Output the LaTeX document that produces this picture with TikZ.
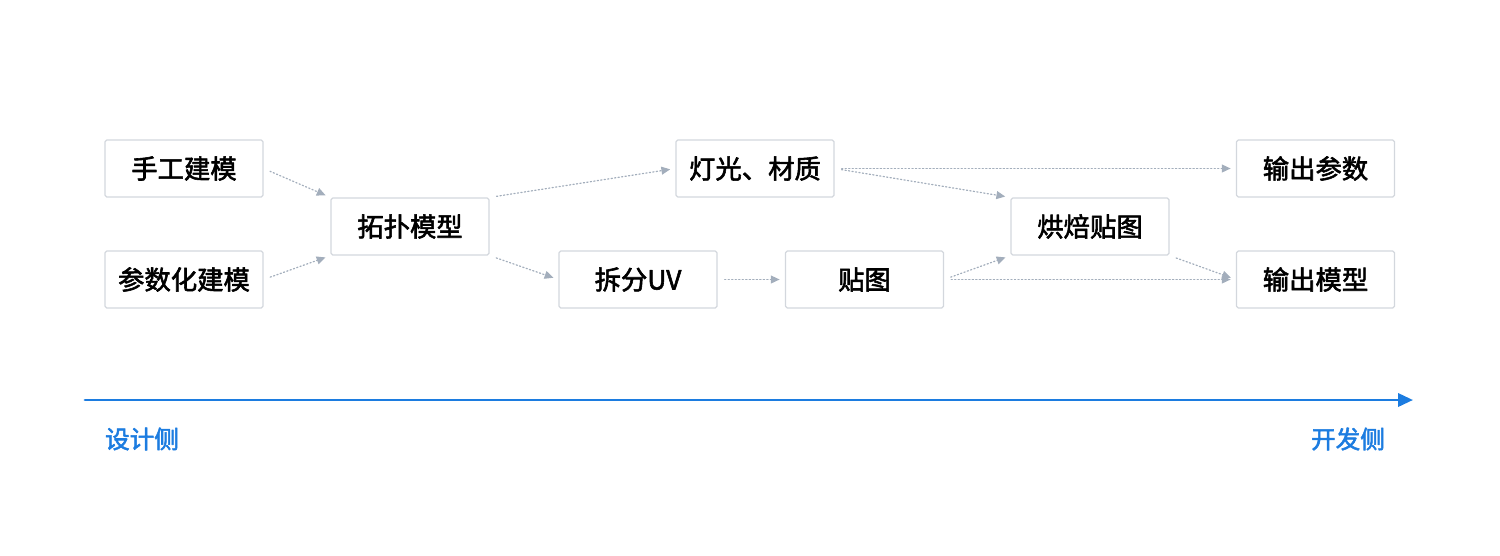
\documentclass[tikz,border=0pt]{standalone}
\usepackage{fontspec}
\setmainfont{Noto Sans CJK SC}[AutoFakeBold=2.2]
\usetikzlibrary{arrows.meta}
\definecolor{reuna}{HTML}{D3D7DD}
\definecolor{harmaa}{HTML}{A3AEBC}
\definecolor{sininen}{HTML}{1C7CE0}

\begin{document}
\begin{tikzpicture}[line cap=round,line join=round,x=0.02cm,y=-0.02cm,
laatikko/.style={draw=reuna,line width=0.7pt,rounded corners=1pt,minimum width=3.16cm,minimum height=1.14cm,inner sep=0pt,font=\bfseries\fontsize{15}{17}\selectfont},
nuoli/.style={draw=harmaa,line width=0.7pt,dash pattern=on 0.7pt off 1.3pt,-{Triangle[length=5pt,width=4.5pt]},shorten <=4pt,shorten >=3pt},
puoli/.style={color=sininen,font=\bfseries\fontsize{14}{16}\selectfont}]
\useasboundingbox (0,0) rectangle (1500,555);

%laatikot
\node[laatikko] (kasi) at (184,168.5) {手工建模};
\node[laatikko] (param) at (184,279.5) {参数化建模};
\node[laatikko] (topo) at (410,226.5) {拓扑模型};
\node[laatikko] (valo) at (755,168.5) {灯光、材质};
\node[laatikko] (uv) at (638,279.5) {拆分UV};
\node[laatikko] (kuva) at (864.5,279.5) {贴图};
\node[laatikko] (paisto) at (1090,226.5) {烘焙贴图};
\node[laatikko] (ulosp) at (1315.5,168.5) {输出参数};
\node[laatikko] (ulosm) at (1315.5,279.5) {输出模型};

%nuolet
\draw[nuoli] (kasi.east) -- (topo.north west);
\draw[nuoli] (param.east) -- (topo.south west);
\draw[nuoli] (topo.north east) -- (valo.west);
\draw[nuoli] (topo.south east) -- (uv.west);
\draw[nuoli] (uv.east) -- (kuva.west);
\draw[nuoli] (valo.east) -- (ulosp.west);
\draw[nuoli] (valo.east) -- (paisto.north west);
\draw[nuoli] (kuva.east) -- (paisto.south west);
\draw[nuoli] (kuva.east) -- (ulosm.west);
\draw[nuoli] (paisto.south east) -- (ulosm.west);

%akseli
\coordinate (alku) at (85,400);
\coordinate (loppu) at (1413,400);
\draw[sininen,line width=1.6pt,-{Triangle[length=8.5pt,width=7.5pt]}] (alku) -- (loppu);
\node[puoli] (suunn) at (142,439) {设计侧};
\node[puoli] (kehit) at (1348,439) {开发侧};
\end{tikzpicture}
\end{document}
